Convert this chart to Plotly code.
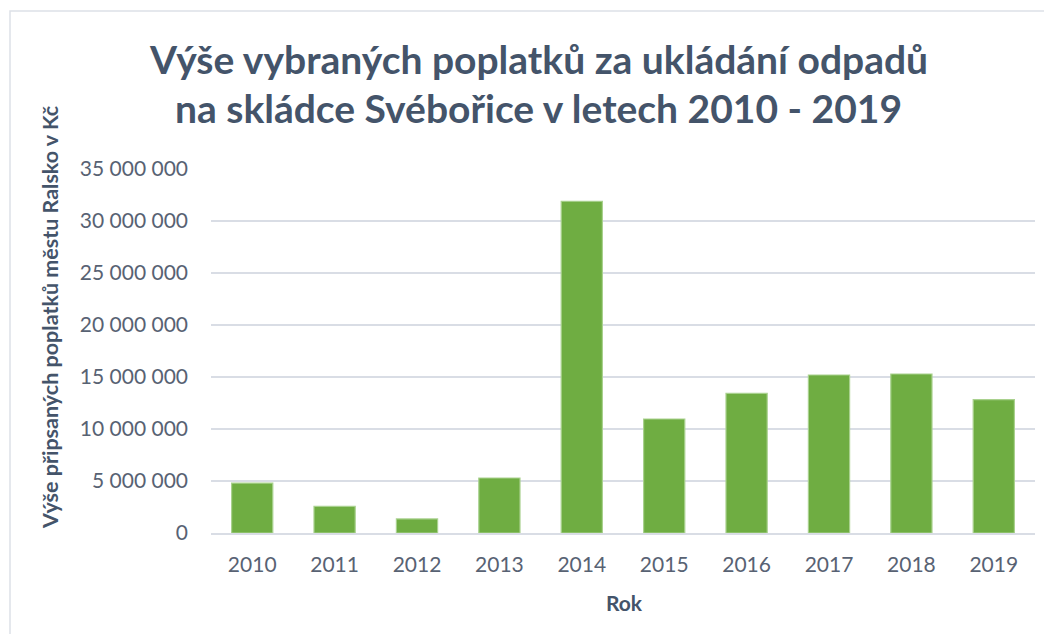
import plotly.graph_objects as go

years = ["2010", "2011", "2012", "2013", "2014", "2015", "2016", "2017", "2018", "2019"]
fees = [4800000, 2560000, 1350000, 5290000, 31900000, 10960000, 13420000, 15190000, 15290000, 12820000]

title_lines = ["Výše vybraných poplatků za ukládání odpadů", "na skládce Svébořice v letech 2010 - 2019"]
y_title = "Výše připsaných poplatků městu Ralsko v Kč"
x_title = "Rok"

# page has an 8px body margin; all target pixel positions are screen coords
OFF = 8
W, H = 1052 - 2 * OFF, 642 - 2 * OFF
PL, PR, PT, PB = 211, 1035, 169, 533  # plot area in screen px
ML, MR, MT, MB = PL - OFF, W - (PR - OFF), PT - OFF, H - (PB - OFF)
PW, PH = PR - PL, PB - PT

def px_x(p):
    return (p - PL) / PW

def px_y(p):
    return (PB - p) / PH

FONT = "Lato"
TXT = "#44546A"
TICK = "#586273"

fig = go.Figure()
fig.add_trace(go.Bar(
    x=years, y=fees,
    marker=dict(color="#6FAD42", line=dict(color="#A9D18E", width=1.2)),
    width=0.5,
))

fig.update_layout(
    width=W, height=H,
    margin=dict(l=ML, r=MR, t=MT, b=MB),
    paper_bgcolor="white", plot_bgcolor="white",
    showlegend=False,
    separators=". ",
    font=dict(family=FONT, color=TICK),
    xaxis=dict(
        type="category",
        tickfont=dict(size=21, color=TICK, family=FONT),
        showline=True, linecolor="#D9DDE5", linewidth=1.5,
        ticks="", showgrid=False,
        ticklabelstandoff=12,
    ),
    yaxis=dict(
        range=[0, 35000000], dtick=5000000, tickformat=",d",
        tickfont=dict(size=21, color=TICK, family=FONT),
        showgrid=True, gridcolor="#D9DDE5", gridwidth=1.5,
        zeroline=False, showline=False, ticks="",
        ticklabelstandoff=22,
    ),
    shapes=[dict(
        type="rect", xref="paper", yref="paper",
        x0=px_x(10), x1=px_x(1070), y0=px_y(660), y1=px_y(11),
        line=dict(color="#DDE1E7", width=1.5), fillcolor="rgba(0,0,0,0)", layer="below",
    )],
    annotations=[
        dict(text="<b>%s</b>" % title_lines[0], xref="paper", yref="paper",
             x=px_x(538), y=px_y(59), xanchor="center", yanchor="middle",
             showarrow=False, font=dict(size=39, color=TXT, family=FONT)),
        dict(text="<b>%s</b>" % title_lines[1], xref="paper", yref="paper",
             x=px_x(538), y=px_y(108), xanchor="center", yanchor="middle",
             showarrow=False, font=dict(size=39, color=TXT, family=FONT)),
        dict(text="<b>%s</b>" % y_title, xref="paper", yref="paper",
             x=px_x(50), y=px_y(317), xanchor="center", yanchor="middle",
             textangle=-90, showarrow=False, font=dict(size=21.5, color=TXT, family=FONT)),
        dict(text="<b>%s</b>" % x_title, xref="paper", yref="paper",
             x=px_x(624), y=px_y(602), xanchor="center", yanchor="middle",
             showarrow=False, font=dict(size=21, color=TXT, family=FONT)),
    ],
)

fig.write_html("out.html")
